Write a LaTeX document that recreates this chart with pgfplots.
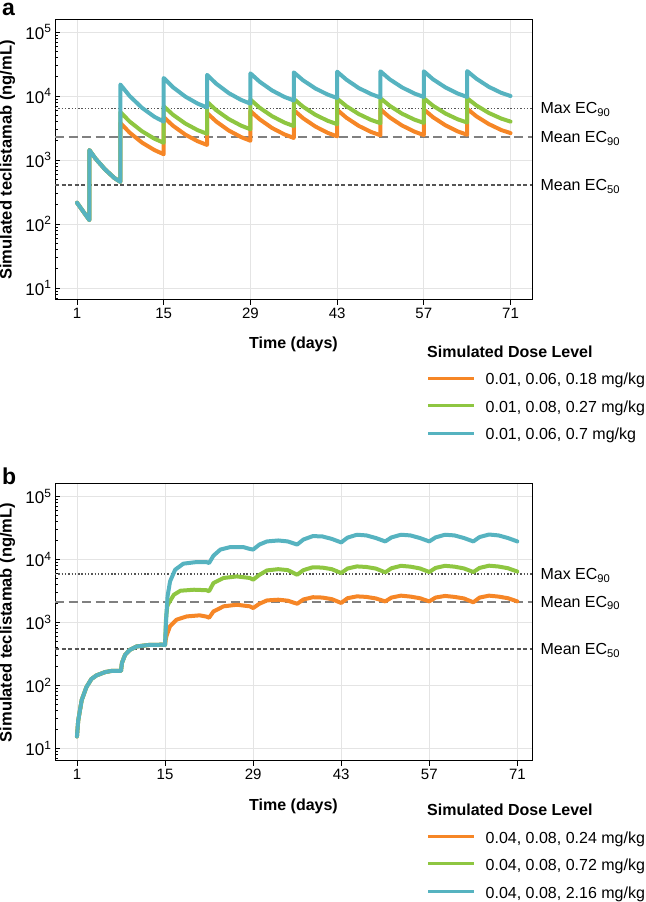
\documentclass[border=0pt]{standalone}
\usepackage{fontspec}
\setmainfont{Liberation Sans}
\usepackage{pgfplots}
\pgfplotsset{compat=1.18}
\definecolor{corange}{RGB}{246,134,38}
\definecolor{cgreen}{RGB}{142,198,65}
\definecolor{cblue}{RGB}{86,179,192}
\definecolor{gridc}{RGB}{228,228,228}
\definecolor{refdark}{RGB}{85,85,85}
\definecolor{refmid}{RGB}{128,128,128}
\pgfplotsset{
  panelstyle/.style={
    anchor=south west, scale only axis, width=477bp,
    clip=false,
    xtick={1,15,29,43,57,71}, xticklabels={1,15,29,43,57,71},
    ytick={10,100,1000,10000,100000},
    yticklabels={10\textsuperscript{1},10\textsuperscript{2},10\textsuperscript{3},10\textsuperscript{4},10\textsuperscript{5}},
    minor ytick={7,8,9,20,30,40,50,60,70,80,90,200,300,400,500,600,700,800,900,2000,3000,4000,5000,6000,7000,8000,9000,20000,30000,40000,50000,60000,70000,80000,90000},
    tick pos=left, xtick align=outside, ytick align=inside,
    major tick length=5bp, minor tick length=3bp,
    grid=major, major grid style={gridc, line width=0.9bp},
    axis line style={line width=1bp},
    every tick/.append style={black, line width=0.8bp},
    xticklabel style={font=\fontsize{15bp}{18bp}\selectfont},
    yticklabel style={font=\fontsize{17bp}{20bp}\selectfont},
    xlabel={Time (days)},
    ylabel={Simulated teclistamab (ng/mL)},
    ylabel style={font=\bfseries\fontsize{16.5bp}{19bp}\selectfont, at={(axis description cs:-0.1,0.5)}, anchor=center},
    legend cell align=left,
    legend style={draw=none, fill=none, inner sep=0pt, outer sep=0pt, anchor=north west, row sep=14.1bp, column sep=10bp, font=\fontsize{16bp}{19bp}\selectfont, nodes={inner sep=0pt, text height=13.4bp, text depth=0bp}},
    legend image code/.code={\draw[#1, line width=2.7bp, line cap=butt] (0bp,0bp) -- (46bp,0bp);},
  },
  curve/.style={line width=4bp, line join=round, line cap=round},
  ecmax/.style={refdark, line width=1.5bp, dash pattern=on 1.4bp off 1.9bp, forget plot},
  ec90/.style={refmid, line width=2bp, dash pattern=on 9bp off 4.5bp, forget plot},
  ec50/.style={refdark, line width=1.4bp, dash pattern=on 4bp off 2.5bp, forget plot},
}
\tikzset{reflab/.style={anchor=base west, xshift=5bp, yshift=-5.5bp, font=\fontsize{16bp}{19bp}\selectfont}}
\begin{document}
\begin{tikzpicture}
\useasboundingbox (0,0) rectangle (646bp,902bp);
% ---------------- panel a ----------------
\begin{axis}[ymode=log, panelstyle, at={(55bp,602bp)}, height=280bp,
  xmin=-2.55, xmax=74.47, ymin=6.494, ymax=154000,
  xlabel style={font=\bfseries\fontsize{16bp}{19bp}\selectfont, at={(axis description cs:0.5,-0.175)}, anchor=base},
  legend style={at={(axis description cs:0.7799,-0.2557)}}]
\addplot[ecmax] coordinates {(-2.55,6410) (74.47,6410)};
\addplot[ec90] coordinates {(-2.55,2260) (74.47,2260)};
\addplot[ec50] coordinates {(-2.55,406) (74.47,406)};
\addplot[curve, corange] coordinates {(1,215) (3,115) (3,1430) (4,1050) (5.5,718) (7,526) (8,455) (8,3800) (9.5,2680) (11.5,1870) (13.5,1430) (15,1230) (15,4680) (16.5,3430) (18.5,2490) (20.5,1960) (22,1720) (22,5430) (23.5,3980) (25.5,2890) (27.5,2280) (29,2000) (29,5820) (30.5,4320) (32.5,3160) (34.5,2510) (36,2210) (36,6030) (37.5,4500) (39.5,3330) (41.5,2650) (43,2340) (43,6100) (44.5,4580) (46.5,3410) (48.5,2740) (50,2430) (50,6170) (51.5,4630) (53.5,3450) (55.5,2770) (57,2450) (57,6170) (58.5,4650) (60.5,3480) (62.5,2790) (64,2480) (64,6310) (65.5,4810) (67.5,3640) (69.5,2940) (71,2630)};
\addlegendentry{0.01, 0.06, 0.18 mg/kg}
\addplot[curve, cgreen] coordinates {(1,215) (3,115) (3,1430) (4,1050) (5.5,718) (7,526) (8,455) (8,5620) (9.5,3990) (11.5,2810) (13.5,2150) (15,1860) (15,6920) (16.5,5090) (18.5,3710) (20.5,2920) (22,2570) (22,8130) (23.5,5980) (25.5,4360) (27.5,3440) (29,3020) (29,8810) (30.5,6550) (32.5,4830) (34.5,3840) (36,3390) (36,9020) (37.5,6800) (39.5,5080) (41.5,4090) (43,3630) (43,9120) (44.5,6930) (46.5,5220) (48.5,4220) (50,3760) (50,9230) (51.5,7020) (53.5,5280) (55.5,4270) (57,3800) (57,9230) (58.5,7030) (60.5,5320) (62.5,4310) (64,3850) (64,9230) (65.5,7110) (67.5,5430) (69.5,4440) (71,3980)};
\addlegendentry{0.01, 0.08, 0.27 mg/kg}
\addplot[curve, cblue] coordinates {(1,215) (3,115) (3,1430) (4,1050) (5.5,718) (7,526) (8,455) (8,15100) (9.5,10000) (11.5,6530) (13.5,4730) (15,3980) (15,19100) (16.5,13700) (18.5,9770) (20.5,7590) (22,6610) (22,21400) (23.5,15500) (25.5,11100) (27.5,8680) (29,7590) (29,22600) (30.5,16700) (32.5,12200) (34.5,9660) (36,8510) (36,23400) (37.5,17600) (39.5,13100) (41.5,10500) (43,9330) (43,24000) (44.5,18000) (46.5,13300) (48.5,10700) (50,9440) (50,24300) (51.5,18200) (53.5,13600) (55.5,10900) (57,9660) (57,24300) (58.5,18200) (60.5,13600) (62.5,10900) (64,9660) (64,24500) (65.5,18600) (67.5,13900) (69.5,11200) (71,10000)};
\addlegendentry{0.01, 0.06, 0.7 mg/kg}
\node[reflab] at (axis cs:74.47,6410) {Max EC\textsubscript{90}};
\node[reflab] at (axis cs:74.47,2260) {Mean EC\textsubscript{90}};
\node[reflab] at (axis cs:74.47,406) {Mean EC\textsubscript{50}};
\end{axis}
% ---------------- panel b ----------------
\begin{axis}[ymode=log, panelstyle, at={(55bp,141bp)}, height=277bp,
  xmin=-2.49, xmax=73.33, ymin=6.4, ymax=159000,
  xlabel style={font=\bfseries\fontsize{16bp}{19bp}\selectfont, at={(axis description cs:0.5,-0.179)}, anchor=base},
  legend style={at={(axis description cs:0.7799,-0.2477)}}]
\addplot[ecmax] coordinates {(-2.49,5930) (73.33,5930)};
\addplot[ec90] coordinates {(-2.49,2150) (73.33,2150)};
\addplot[ec50] coordinates {(-2.49,382) (73.33,382)};
\addplot[curve, corange] coordinates {(1,15.7) (1.2,28) (1.75,59) (2.5,95) (3.3,128) (4.1,146) (5.5,165) (6.5,172) (8,172) (8.15,230) (8.65,310) (9.4,370) (10.5,420) (12.5,445) (14.5,448) (15,445) (15.15,571) (15.3,646) (15.8,883) (16.85,1120) (18.45,1260) (20.5,1310) (21.6,1250) (22,1200) (22.7,1510) (24.3,1820) (26.4,1930) (28.5,1820) (29,1710) (30,2000) (31.2,2260) (33,2320) (34.5,2240) (36,2000) (37,2340) (38.5,2540) (40,2510) (41.5,2370) (43,2060) (44,2450) (45.5,2620) (47,2570) (48.5,2430) (50,2180) (51,2510) (52.5,2690) (54,2600) (55.5,2450) (57,2180) (58,2510) (59.5,2660) (61,2570) (62.5,2430) (64,2110) (65,2510) (66.5,2690) (68,2600) (69.5,2450) (71,2180)};
\addlegendentry{0.04, 0.08, 0.24 mg/kg}
\addplot[curve, cgreen] coordinates {(1,15.7) (1.2,28) (1.75,59) (2.5,95) (3.3,128) (4.1,146) (5.5,165) (6.5,172) (8,172) (8.15,230) (8.65,310) (9.4,370) (10.5,420) (12.5,445) (14.5,448) (15,445) (15.15,1120) (15.35,1820) (15.6,2050) (16.4,2780) (17.45,3220) (19.6,3340) (21.6,3280) (22,3160) (22.7,4270) (24.3,5130) (26.4,5430) (28.5,5130) (29,4820) (30,5750) (31.2,6760) (33,7080) (34.5,6840) (36,5780) (37,6840) (38.5,7590) (40,7500) (41.5,7080) (43,6150) (44,7240) (45.5,7830) (47,7670) (48.5,7240) (50,6310) (51,7330) (52.5,8000) (54,7760) (55.5,7280) (57,6380) (58,7410) (59.5,8000) (61,7760) (62.5,7280) (64,6380) (65,7410) (66.5,8040) (68,7800) (69.5,7330) (71,6490)};
\addlegendentry{0.04, 0.08, 0.72 mg/kg}
\addplot[curve, cblue] coordinates {(1,15.7) (1.2,28) (1.75,59) (2.5,95) (3.3,128) (4.1,146) (5.5,165) (6.5,172) (8,172) (8.15,230) (8.65,310) (9.4,370) (10.5,420) (12.5,445) (14.5,448) (15,445) (15.2,1260) (15.4,2630) (15.8,4530) (16.6,6920) (17.9,8650) (20,9180) (21.6,9180) (22,8850) (22.7,11600) (23.8,14500) (25.3,15800) (27.5,15800) (28.5,14800) (29,14500) (30,17400) (31.2,19500) (33,20200) (34.5,19500) (36,17400) (37,20900) (38.5,23700) (40,23400) (41.5,21400) (43,18800) (44,22400) (45.5,24900) (47,24300) (48.5,22100) (50,19500) (51,22600) (52.5,24900) (54,24300) (55.5,22100) (57,19500) (58,22600) (59.5,24900) (61,24300) (62.5,22100) (64,19500) (65,22900) (66.5,25100) (68,24300) (69.5,22100) (71,19500)};
\addlegendentry{0.04, 0.08, 2.16 mg/kg}
\node[reflab] at (axis cs:73.33,5930) {Max EC\textsubscript{90}};
\node[reflab] at (axis cs:73.33,2150) {Mean EC\textsubscript{90}};
\node[reflab] at (axis cs:73.33,382) {Mean EC\textsubscript{50}};
\end{axis}
% titles and panel letters
\node[anchor=base west, inner sep=0pt, font=\bfseries\fontsize{16bp}{19bp}\selectfont] at (427bp,544bp) {Simulated Dose Level};
\node[anchor=base west, inner sep=0pt, font=\bfseries\fontsize{16bp}{19bp}\selectfont] at (427bp,86bp) {Simulated Dose Level};
\node[anchor=base west, inner sep=0pt, font=\bfseries\fontsize{23bp}{26bp}\selectfont] at (2bp,886bp) {a};
\node[anchor=base west, inner sep=0pt, font=\bfseries\fontsize{23bp}{26bp}\selectfont] at (2bp,417bp) {b};
\end{tikzpicture}
\end{document}
